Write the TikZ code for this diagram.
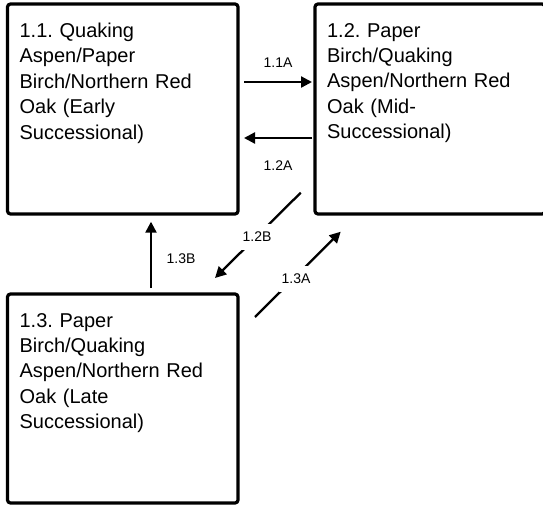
\documentclass[tikz,border=0pt]{standalone}
\usepackage{fontspec}
\setmainfont{Liberation Sans}
\usetikzlibrary{arrows.meta}
\frenchspacing
\begin{document}
\begin{tikzpicture}[x=1pt,y=-1pt,
  box/.style={draw=black,line width=3.2pt,rounded corners=3pt,fill=white,inner sep=0pt},
  boxtext/.style={anchor=north west,inner sep=0pt,align=left,font=\fontsize{20}{25.4}\selectfont,text width=215pt},
  conn/.style={line width=2.3pt,-{Triangle[length=11pt,width=11pt]}},
  lbl/.style={font=\fontsize{14}{16}\selectfont,fill=white,inner xsep=2.5pt,minimum height=26pt}]
\useasboundingbox (0,0) rectangle (543,506);
\clip (0,0) rectangle (543,506);
\node[box,minimum width=230.5pt,minimum height=210pt] (b11) at (122.75,109) {};
\node[box,minimum width=230pt,minimum height=210pt] (b12) at (430,109) {};
\node[box,minimum width=230.5pt,minimum height=209pt] (b13) at (122.75,398.5) {};
\node[boxtext] (t11) at ([xshift=13.5pt,yshift=-20.5pt]b11.north west) {1.1. Quaking\\Aspen/Paper\\Birch/Northern Red\\Oak (Early\\Successional)};
\node[boxtext] (t12) at ([xshift=13.5pt,yshift=-20.5pt]b12.north west) {1.2. Paper\\Birch/Quaking\\Aspen/Northern Red\\Oak (Mid-\\Successional)};
\node[boxtext] (t13) at ([xshift=13.5pt,yshift=-20.5pt]b13.north west) {1.3. Paper\\Birch/Quaking\\Aspen/Northern Red\\Oak (Late\\Successional)};
% free arrow ends
\coordinate (a1s) at (244,82);
\coordinate (a1e) at (312,82);
\coordinate (a2s) at (312,138);
\coordinate (a2e) at (244,138);
\coordinate (a3s) at (300.7,192.7);
\coordinate (a3e) at (215,278);
\coordinate (a4s) at (255,317);
\coordinate (a4e) at (340.7,231.7);
\coordinate (a5s) at (151,288);
\coordinate (a5e) at (151,221.7);
\draw[conn] (a1s) -- (a1e);
\draw[conn] (a2s) -- (a2e);
\draw[conn] (a3s) -- (a3e);
\draw[conn] (a4s) -- (a4e);
\draw[conn] (a5s) -- (a5e);
\node[lbl,fill=none] (l1) at (278,63) {1.1A};
\node[lbl,fill=none] (l2) at (278,166) {1.2A};
\node[lbl] (l3) at (257,237) {1.2B};
\node[lbl] (l4) at (296,279) {1.3A};
\node[lbl,fill=none] (l5) at (181,259) {1.3B};
\end{tikzpicture}
\end{document}
